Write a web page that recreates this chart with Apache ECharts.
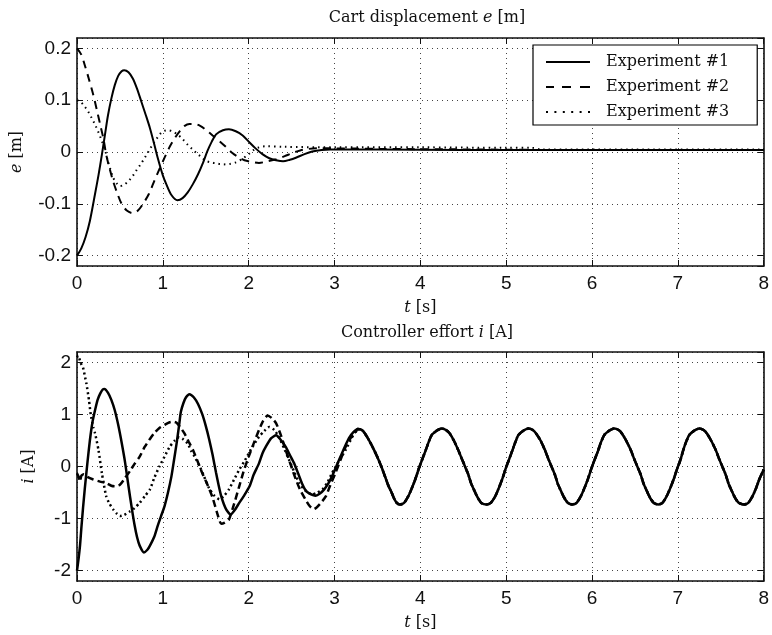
<!DOCTYPE html>
<html><head><meta charset="utf-8">
<script src="https://cdn.jsdelivr.net/npm/echarts/dist/echarts.min.js"></script>
<style>html,body{margin:0;padding:0;background:#fff}#c{width:772px;height:635px}</style>
</head><body><div id="c"></div><script>
// ---------- Data ----------
const xTicks = [0, 1, 2, 3, 4, 5, 6, 7, 8];
const seriesNames = ['Experiment #1', 'Experiment #2', 'Experiment #3'];

// Cart displacement e [m]
const tE1 = [0,0.05,0.1,0.15,0.21,0.25,0.29,0.33,0.36,0.4,0.44,0.48,0.52,0.55,0.6,0.65,0.7,0.75,0.8,0.85,0.9,0.94,1.0,1.04,1.1,1.17,1.23,1.29,1.35,1.41,1.47,1.52,1.57,1.62,1.7,1.77,1.85,1.93,2.0,2.08,2.16,2.24,2.32,2.4,2.48,2.55,2.65,2.74,2.85,2.95,3.5,4.5,5.5,6.5,7.5,8];
const eE1 = [-0.2,-0.186,-0.164,-0.133,-0.081,-0.045,-0.005,0.038,0.07,0.103,0.129,0.147,0.156,0.158,0.154,0.142,0.122,0.097,0.072,0.046,0.015,-0.011,-0.045,-0.062,-0.083,-0.093,-0.089,-0.078,-0.062,-0.043,-0.02,0.002,0.02,0.034,0.042,0.044,0.04,0.032,0.02,0.007,-0.004,-0.012,-0.016,-0.018,-0.015,-0.011,-0.004,0.001,0.004,0.005,0.005,0.004,0.004,0.004,0.004,0.004];

const tE2 = [0,0.05,0.09,0.14,0.19,0.23,0.27,0.31,0.34,0.38,0.42,0.47,0.52,0.58,0.65,0.71,0.77,0.84,0.9,0.96,1.02,1.08,1.14,1.2,1.25,1.31,1.37,1.44,1.5,1.58,1.66,1.74,1.81,1.88,1.95,2.03,2.12,2.22,2.32,2.42,2.51,2.6,2.7,2.8,3.0,3.5,4.5,5.5,6.5,7.5,8];
const eE2 = [0.2,0.188,0.168,0.14,0.11,0.082,0.053,0.024,-0.005,-0.032,-0.056,-0.08,-0.1,-0.113,-0.118,-0.113,-0.1,-0.08,-0.056,-0.033,-0.011,0.01,0.027,0.041,0.05,0.054,0.054,0.05,0.043,0.032,0.021,0.009,-0.002,-0.01,-0.016,-0.019,-0.021,-0.018,-0.014,-0.008,-0.002,0.003,0.006,0.007,0.007,0.006,0.005,0.004,0.004,0.004,0.004];

const tE3 = [0,0.04,0.08,0.13,0.17,0.21,0.25,0.29,0.33,0.36,0.39,0.42,0.46,0.5,0.55,0.6,0.65,0.69,0.74,0.79,0.84,0.88,0.93,0.98,1.02,1.06,1.11,1.17,1.23,1.29,1.34,1.39,1.45,1.5,1.56,1.62,1.7,1.78,1.85,1.92,2.0,2.06,2.12,2.2,2.4,3.0,4.0,5.0,5.3,5.4,6.5,8];
const eE3 = [0.1,0.097,0.09,0.078,0.066,0.053,0.038,0.021,0.002,-0.018,-0.034,-0.049,-0.06,-0.066,-0.063,-0.056,-0.046,-0.036,-0.024,-0.011,0.003,0.014,0.026,0.037,0.041,0.042,0.04,0.034,0.025,0.014,0.006,-0.002,-0.01,-0.017,-0.02,-0.022,-0.024,-0.023,-0.02,-0.014,-0.004,0.004,0.009,0.011,0.01,0.009,0.009,0.008,0.008,0.005,0.005,0.005];

// Controller effort i [A]
const tI1 = [0,0.02,0.035,0.05,0.07,0.09,0.12,0.15,0.18,0.21,0.24,0.27,0.3,0.32,0.36,0.4,0.44,0.48,0.52,0.56,0.6,0.64,0.67,0.7,0.73,0.78,0.82,0.85,0.9,0.94,0.98,1.02,1.06,1.1,1.13,1.16,1.19,1.21,1.24,1.27,1.31,1.36,1.41,1.46,1.5,1.54,1.58,1.62,1.65,1.68,1.71,1.74,1.79,1.84,1.89,1.95,2.01,2.06,2.12,2.16,2.2,2.26,2.32,2.37,2.43,2.48,2.53,2.58,2.62,2.66,2.7,2.78,2.83,2.88,2.93,2.97,3.02,3.07,3.12,3.17,3.22];
const iI1 = [-2.0,-1.75,-1.52,-1.2,-0.8,-0.44,0.05,0.5,0.85,1.08,1.28,1.4,1.48,1.49,1.42,1.28,1.08,0.8,0.46,0.08,-0.38,-0.82,-1.12,-1.36,-1.52,-1.65,-1.6,-1.52,-1.35,-1.14,-0.95,-0.76,-0.5,-0.19,0.12,0.44,0.8,1.05,1.22,1.33,1.39,1.33,1.2,1.0,0.78,0.52,0.22,-0.12,-0.36,-0.57,-0.72,-0.83,-0.92,-0.83,-0.7,-0.55,-0.38,-0.15,0.06,0.25,0.38,0.54,0.6,0.52,0.38,0.22,0.06,-0.15,-0.32,-0.45,-0.51,-0.56,-0.52,-0.44,-0.32,-0.19,0.0,0.19,0.38,0.55,0.66];

const tI2 = [0,0.02,0.035,0.05,0.08,0.12,0.19,0.27,0.34,0.4,0.44,0.5,0.56,0.62,0.67,0.73,0.79,0.85,0.9,0.96,1.02,1.08,1.12,1.16,1.2,1.25,1.3,1.35,1.4,1.46,1.52,1.58,1.63,1.68,1.72,1.77,1.83,1.89,1.94,2.0,2.06,2.12,2.17,2.22,2.27,2.32,2.38,2.43,2.49,2.55,2.6,2.66,2.71,2.76,2.83,2.9,2.95,3.01,3.07,3.13,3.19,3.24];
const iI2 = [-0.13,-0.2,-0.29,-0.18,-0.15,-0.2,-0.25,-0.29,-0.32,-0.37,-0.38,-0.35,-0.22,-0.08,0.05,0.19,0.38,0.53,0.64,0.74,0.8,0.85,0.86,0.84,0.76,0.64,0.48,0.32,0.12,-0.13,-0.35,-0.6,-0.88,-1.1,-1.08,-1.02,-0.72,-0.38,-0.1,0.19,0.45,0.7,0.88,0.98,0.93,0.83,0.58,0.32,0.03,-0.25,-0.45,-0.63,-0.76,-0.82,-0.72,-0.57,-0.36,-0.13,0.13,0.38,0.55,0.64];

const tI3 = [0,0.015,0.04,0.07,0.09,0.11,0.14,0.16,0.19,0.21,0.25,0.29,0.34,0.38,0.42,0.46,0.5,0.55,0.61,0.67,0.73,0.79,0.85,0.9,0.96,1.02,1.08,1.14,1.19,1.24,1.29,1.33,1.37,1.43,1.48,1.54,1.6,1.66,1.72,1.77,1.83,1.89,1.95,2.0,2.06,2.12,2.18,2.24,2.3,2.35,2.41,2.47,2.53,2.59,2.66,2.74,2.8,2.86,2.92,2.97,3.05,3.13,3.2,3.24];
const iI3 = [2.1,2.13,2.0,1.9,1.75,1.59,1.27,1.0,0.75,0.64,0.32,-0.13,-0.57,-0.72,-0.82,-0.9,-0.95,-0.93,-0.87,-0.8,-0.7,-0.57,-0.44,-0.22,0.0,0.19,0.38,0.5,0.56,0.52,0.44,0.3,0.19,0.0,-0.19,-0.42,-0.56,-0.63,-0.55,-0.44,-0.25,-0.06,0.1,0.25,0.42,0.57,0.68,0.76,0.7,0.57,0.36,0.13,-0.1,-0.32,-0.46,-0.54,-0.5,-0.44,-0.3,-0.13,0.1,0.32,0.55,0.66];

// common steady oscillation (all three experiments overlap from ~3.3 s)
const tTail = [3.27,3.32,3.36,3.41,3.46,3.51,3.55,3.59,3.63,3.66,3.69,3.72,3.76,3.81,3.86,3.9,3.94,3.98,4.02,4.06,4.09,4.13,4.16,4.2,4.25,4.3,4.34,4.39,4.44,4.48,4.52,4.56,4.59,4.62,4.65,4.68,4.71,4.77,4.82,4.87,4.91,4.95,4.99,5.03,5.07,5.1,5.14,5.17,5.21,5.26,5.31,5.35,5.4,5.45,5.49,5.53,5.57,5.6,5.63,5.66,5.69,5.72,5.77,5.82,5.87,5.91,5.95,5.99,6.03,6.07,6.1,6.14,6.17,6.21,6.26,6.31,6.35,6.4,6.45,6.49,6.53,6.57,6.6,6.63,6.66,6.69,6.72,6.77,6.82,6.87,6.91,6.95,6.99,7.03,7.06,7.09,7.13,7.16,7.2,7.25,7.3,7.34,7.39,7.44,7.48,7.52,7.56,7.59,7.62,7.65,7.68,7.71,7.77,7.82,7.87,7.91,7.95,8.0];
const iTail = [0.72,0.7,0.62,0.48,0.32,0.14,-0.02,-0.2,-0.38,-0.48,-0.6,-0.69,-0.73,-0.7,-0.57,-0.42,-0.25,-0.05,0.13,0.3,0.44,0.6,0.65,0.7,0.73,0.7,0.64,0.5,0.32,0.16,0.0,-0.16,-0.32,-0.43,-0.54,-0.63,-0.7,-0.73,-0.7,-0.58,-0.43,-0.26,-0.06,0.12,0.3,0.44,0.6,0.65,0.7,0.73,0.7,0.63,0.5,0.32,0.15,-0.01,-0.17,-0.33,-0.44,-0.55,-0.64,-0.7,-0.73,-0.7,-0.57,-0.42,-0.25,-0.05,0.13,0.3,0.45,0.6,0.65,0.7,0.73,0.7,0.63,0.49,0.32,0.15,-0.01,-0.17,-0.33,-0.44,-0.55,-0.64,-0.7,-0.73,-0.7,-0.57,-0.42,-0.25,-0.05,0.13,0.3,0.45,0.6,0.65,0.7,0.73,0.7,0.63,0.49,0.32,0.15,-0.01,-0.17,-0.33,-0.44,-0.55,-0.64,-0.7,-0.73,-0.7,-0.57,-0.42,-0.24,-0.06];

// ---------- Build chart ----------
function zip(t, v) { return t.map((x, k) => [x, v[k]]); }
const ser1 = zip(tI1.concat(tTail), iI1.concat(iTail));
const ser2 = zip(tI2.concat(tTail), iI2.concat(iTail));
const ser3 = zip(tI3.concat(tTail), iI3.concat(iTail));

const SERIF = 'DejaVu Serif';
const SANS = 'Liberation Sans';
const rich = {
  n: { fontFamily: SERIF, fontSize: 16, fontWeight: 'normal', color: '#111' },
  i: { fontFamily: SERIF, fontSize: 16, fontWeight: 'normal', fontStyle: 'italic', color: '#111' }
};
const gridDot = { show: true, lineStyle: { color: '#444', width: 1, type: [1, 4] } };
const axLine = { show: true, onZero: false, lineStyle: { color: '#111', width: 1.6 } };
const tick = { show: true, inside: true, length: 6, lineStyle: { color: '#111', width: 1 } };

// legend line-sample icons (44 x 2 box)
const legendIcons = [
  'path://M0,0H44V2H0Z',
  'path://M0,0H8V2H0Z M16,0H25V2H16Z M34,0H44V2H34Z',
  'path://M0,0H2V2H0Z M8.4,0H10.4V2H8.4Z M16.8,0H18.8V2H16.8Z M25.2,0H27.2V2H25.2Z M33.6,0H35.6V2H33.6Z M42,0H44V2H42Z'
];

function xAx(grid, pos, withLabels) {
  return {
    type: 'value', gridIndex: grid, position: pos, min: 0, max: 8, interval: 1,
    axisLine: axLine, axisTick: tick,
    axisLabel: withLabels ? { show: true, fontFamily: SANS, fontSize: 19, color: '#111', margin: 8 } : { show: false },
    splitLine: withLabels ? gridDot : { show: false },
    name: withLabels ? '{i|t}{n| [s]}' : '', nameLocation: 'middle', nameGap: 34,
    nameTextStyle: { rich: rich }
  };
}
function yAx(grid, pos, withLabels, mn, mx, nm, gap) {
  return {
    type: 'value', gridIndex: grid, position: pos, min: mn, max: mx,
    axisLine: axLine, axisTick: tick,
    axisLabel: withLabels ? { show: true, fontFamily: SANS, fontSize: 19, color: '#111', margin: 6, showMinLabel: false, showMaxLabel: false } : { show: false },
    splitLine: withLabels ? gridDot : { show: false },
    name: withLabels ? nm : '', nameLocation: 'middle', nameRotate: 90, nameGap: gap,
    nameTextStyle: { rich: rich }
  };
}
function line(name, data, xi, yi, type, width, smooth) {
  return {
    name: name, type: 'line', xAxisIndex: xi, yAxisIndex: yi, data: data,
    symbol: 'none', smooth: smooth, clip: true,
    lineStyle: { color: '#000', width: width, type: type },
    itemStyle: { color: '#000' }
  };
}

const chart = echarts.init(document.getElementById('c'), null, { renderer: 'canvas' });
chart.setOption({
  animation: false,
  backgroundColor: '#fff',
  title: [
    { text: '{n|Cart displacement }{i|e}{n| [m]}', left: 422, top: 5, textAlign: 'center', textStyle: { fontWeight: 'normal', rich: rich } },
    { text: '{n|Controller effort }{i|i}{n| [A]}', left: 422, top: 320, textAlign: 'center', textStyle: { fontWeight: 'normal', rich: rich } }
  ],
  legend: {
    data: seriesNames.map((n, k) => ({ name: n, icon: legendIcons[k] })),
    orient: 'vertical', left: 533, top: 45,
    backgroundColor: '#fff', borderColor: '#000', borderWidth: 1.2, borderRadius: 0,
    padding: [9, 28, 5, 13], itemWidth: 44, itemHeight: 2, itemGap: 9,
    textStyle: { fontFamily: SERIF, fontSize: 16, color: '#111', padding: [0, 0, 0, 11] }
  },
  grid: [
    { left: 77, right: 5, top: 38, height: 228 },
    { left: 77, right: 5, top: 352, height: 229 }
  ],
  xAxis: [xAx(0, 'bottom', true), xAx(0, 'top', false), xAx(1, 'bottom', true), xAx(1, 'top', false)],
  yAxis: [
    yAx(0, 'left', true, -0.22, 0.22, '{i|e}{n| [m]}', 52),
    yAx(0, 'right', false, -0.22, 0.22, '', 0),
    yAx(1, 'left', true, -2.2, 2.2, '{i|i}{n| [A]}', 40),
    yAx(1, 'right', false, -2.2, 2.2, '', 0)
  ],
  series: [
    line(seriesNames[0], zip(tE1, eE1), 0, 0, 'solid', 2, 0.3),
    line(seriesNames[1], zip(tE2, eE2), 0, 0, [8, 6], 2, 0.3),
    line(seriesNames[2], zip(tE3, eE3), 0, 0, [1.5, 4], 2, 0.3),
    line(seriesNames[0], ser1, 2, 2, 'solid', 2.5, 0.2),
    line(seriesNames[1], ser2, 2, 2, [7, 4], 2.5, 0.2),
    line(seriesNames[2], ser3, 2, 2, [2, 3], 2.5, 0.2)
  ]
});
</script></body></html>
